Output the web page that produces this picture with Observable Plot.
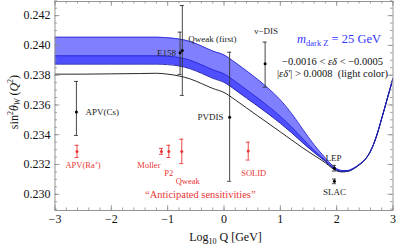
<!DOCTYPE html>
<html><head><meta charset="utf-8">
<script src="https://cdn.jsdelivr.net/npm/d3@7"></script>
<script src="https://cdn.jsdelivr.net/npm/@observablehq/plot@0.6"></script>
<style>body{margin:0;background:#fff}#chart svg{display:block}</style>
</head><body><div id="chart"></div>
<script>
// ---- data ----
const curveX = [-3,-2.5,-2,-1.5,-1.2,-1.0,-0.8,-0.6,-0.4,-0.2,0,0.2,0.4,0.6,0.8,1.0,1.2,1.4,1.6,1.8,1.9,2.0,2.1,2.2,2.3,2.4,2.5,2.6,2.7,2.8,2.9,3.0];
const smCurve = [0.23807,0.23807,0.23809,0.23811,0.23813,0.23807,0.23795,0.23775,0.23744,0.23711,0.23684,0.23634,0.23580,0.23526,0.23473,0.23419,0.23365,0.23311,0.23261,0.23211,0.23181,0.23157,0.23150,0.23154,0.23171,0.23197,0.23231,0.23288,0.23382,0.23509,0.23644,0.23778];
const bandUpper = [0.24055,0.24055,0.24055,0.24055,0.24055,0.24051,0.24043,0.24026,0.23996,0.23962,0.23936,0.23885,0.23829,0.23771,0.23707,0.23634,0.23543,0.23436,0.23332,0.23244,0.23203,0.23172,0.23160,0.23160,0.23175,0.23200,0.23232,0.23289,0.23383,0.23510,0.23645,0.23779];
const bandMid = [0.23930,0.23930,0.23930,0.23930,0.23930,0.23927,0.23919,0.23900,0.23870,0.23836,0.23809,0.23758,0.23702,0.23646,0.23587,0.23524,0.23452,0.23373,0.23295,0.23228,0.23191,0.23164,0.23155,0.23157,0.23173,0.23199,0.23232,0.23289,0.23383,0.23510,0.23645,0.23779];
const bandLower = [0.23874,0.23874,0.23874,0.23874,0.23874,0.23871,0.23862,0.23843,0.23813,0.23779,0.23752,0.23701,0.23646,0.23592,0.23536,0.23477,0.23413,0.23345,0.23280,0.23220,0.23187,0.23161,0.23153,0.23155,0.23172,0.23198,0.23232,0.23289,0.23383,0.23510,0.23645,0.23779];

const expNames = ["APV(Cs)","E158","Qweak (first)","PVDIS","\u03bd\u2212DIS","LEP","SLAC"];
const expX  = [-2.62,-0.78,-0.74,0.10,0.73,1.96,1.96];
const expY  = [0.23552,0.23951,0.23965,0.23518,0.23877,0.23175,0.23087];
const expLo = [0.23395,0.23805,0.23664,0.23087,0.23719,0.23156,0.23071];
const expHi = [0.23758,0.24089,0.24268,0.23954,0.24022,0.23194,0.23102];

const futNames = ["APV(Ra\u207a)","Moller","P2","Qweak","SOLID"];
const futX   = [-2.61,-1.11,-0.98,-0.75,0.43];
const futY   = [0.23288,0.23288,0.23288,0.23288,0.23290];
const futErr = [0.00041,0.00020,0.00041,0.00082,0.00060];

const xTicks = [-3,-2,-1,0,1,2,3];
const xTickLabels = ["\u22123","\u22122","\u22121","0","1","2","3"];
const yTicks = [0.230,0.232,0.234,0.236,0.238,0.240,0.242];
const yTickLabels = ["0.230","0.232","0.234","0.236","0.238","0.240","0.242"];

const noteText = "\u201cAnticipated sensitivities\u201d";
const noteX = -0.42, noteY = 0.2300;

// ---- layout / style ----
const serif = "'Liberation Serif','Times New Roman',serif";
const red = "#ea3535";
const frameCol = "#8c8c8c";
const expLayout = [[9,0,"start"],[-4,0,"end"],[6,-12,"start"],[-6,0,"end"],[1,-33,"middle"],[-1,-10,"middle"],[0,10.5,"middle"]];
const futLayout = [[6,14,"middle"],[-1,14,"end"],[0,21.7,"middle"],[6,30,"middle"],[5.5,22,"middle"]];

const rows = curveX.map((x,i)=>({x, sm:smCurve[i], up:bandUpper[i], mid:bandMid[i], lo:bandLower[i]}));
const exp = expNames.map((name,i)=>({name, x:expX[i], y:expY[i], lo:expLo[i], hi:expHi[i]}));
const fut = futNames.map((name,i)=>({name, x:futX[i], y:futY[i], lo:futY[i]-futErr[i], hi:futY[i]+futErr[i]}));

const xMinor = d3.range(-3, 3.0001, 0.2).map(v=>+v.toFixed(2));
const yMinor = d3.range(0.229, 0.2430001, 0.0005).map(v=>+v.toFixed(4));

const fh = 247-1-37, fw = 399-54.5-6.5;
const tickMarks = (vals, len) => [
  Plot.tickX(vals, {x:d=>d, insetTop: fh-len, stroke: frameCol, strokeWidth:0.8}),
  Plot.tickX(vals, {x:d=>d, insetBottom: fh-len, stroke: frameCol, strokeWidth:0.8})
];
const tickMarksY = (vals, len) => [
  Plot.tickY(vals, {y:d=>d, insetRight: fw-len, stroke: frameCol, strokeWidth:0.8}),
  Plot.tickY(vals, {y:d=>d, insetLeft: fw-len, stroke: frameCol, strokeWidth:0.8})
];

const svg = Plot.plot({
  width: 399, height: 247,
  marginLeft: 54.5, marginRight: 6.5, marginTop: 1, marginBottom: 37,
  style: {fontFamily: serif, background: "#fff"},
  x: {domain: [-3, 3]},
  y: {domain: [0.22891, 0.24295]},
  marks: [
    Plot.areaY(rows, {x:"x", y1:"lo", y2:"up", fill:"#8080ff", curve:"monotone-x", clip:true}),
    Plot.areaY(rows, {x:"x", y1:"lo", y2:"mid", fill:"#4f4fff", curve:"monotone-x", clip:true}),
    Plot.lineY(rows, {x:"x", y:"sm", stroke:"#111", strokeWidth:0.9, curve:"monotone-x", clip:true}),
    Plot.lineY(rows, {x:"x", y:"up", stroke:"#2a2ad2", strokeWidth:0.9, curve:"monotone-x", clip:true}),
    Plot.lineY(rows, {x:"x", y:"mid", stroke:"#2a2ad2", strokeWidth:0.9, curve:"monotone-x", clip:true}),
    Plot.lineY(rows, {x:"x", y:"lo", stroke:"#1a1aa0", strokeWidth:0.9, curve:"monotone-x", clip:true}),
    // measured points
    Plot.ruleX(exp, {x:"x", y1:"lo", y2:"hi", stroke:"#333", strokeWidth:0.9}),
    Plot.ruleY(exp, {y:"hi", x1:"x", x2:"x", insetLeft:-2, insetRight:-2, stroke:"#333", strokeWidth:0.9}),
    Plot.ruleY(exp, {y:"lo", x1:"x", x2:"x", insetLeft:-2, insetRight:-2, stroke:"#333", strokeWidth:0.9}),
    Plot.dot(exp, {x:"x", y:"y", r:1.5, fill:"#000"}),
    // anticipated
    Plot.ruleX(fut, {x:"x", y1:"lo", y2:"hi", stroke:red, strokeWidth:0.9}),
    Plot.ruleY(fut, {y:"hi", x1:"x", x2:"x", insetLeft:-2, insetRight:-2, stroke:red, strokeWidth:0.9}),
    Plot.ruleY(fut, {y:"lo", x1:"x", x2:"x", insetLeft:-2, insetRight:-2, stroke:red, strokeWidth:0.9}),
    Plot.dot(fut, {x:"x", y:"y", r:1.5, fill:red}),
    ...exp.map((row,i)=>Plot.text([row], {x:"x", y:"y", text:"name", dx:expLayout[i][0], dy:expLayout[i][1], textAnchor:expLayout[i][2], fill:"#222", fontSize:9})),
    ...fut.map((row,i)=>Plot.text([row], {x:"x", y:"y", text:"name", dx:futLayout[i][0], dy:futLayout[i][1], textAnchor:futLayout[i][2], fill:red, fontSize:8.5})),
    Plot.text([{x:noteX, y:noteY, t:noteText}], {x:"x", y:"y", text:"t", fill:red, fontSize:10.5}),
    // frame & ticks
    Plot.frame({stroke: frameCol, strokeWidth: 0.9}),
    ...tickMarks(xMinor, 2.5), ...tickMarks(xTicks, 5),
    ...tickMarksY(yMinor, 2.5), ...tickMarksY(yTicks, 5),
    Plot.axisX(xTicks, {anchor:"bottom", tickSize:0, tickPadding:3.5, fontSize:12, fill:"#111", tickFormat:(d)=>xTickLabels[xTicks.indexOf(d)], label:null}),
    Plot.axisY(yTicks, {anchor:"left", tickSize:0, tickPadding:4.5, fontSize:12, fill:"#111", tickFormat:(d)=>yTickLabels[yTicks.indexOf(d)], label:null})
  ]
});

// rich-text annotations
const s = d3.select(svg);
const yl = s.append("text").attr("transform","translate(14,102) rotate(-90)")
  .attr("text-anchor","middle").attr("dominant-baseline","central")
  .attr("font-family",serif).attr("font-size",12).attr("fill","#111");
yl.append("tspan").text("sin");
yl.append("tspan").attr("dy",-4).attr("font-size",8).text("2");
yl.append("tspan").attr("dy",4).attr("font-style","italic").text("\u03b8");
yl.append("tspan").attr("dy",3).attr("font-size",8).attr("font-style","italic").text("W");
yl.append("tspan").attr("dy",-3).text(" (");
yl.append("tspan").attr("font-style","italic").text("Q");
yl.append("tspan").attr("dy",-4).attr("font-size",8).text("2");
yl.append("tspan").attr("dy",4).text(")");

const xl = s.append("text").attr("x",225.5).attr("y",241).attr("text-anchor","middle")
  .attr("font-family",serif).attr("font-size",12).attr("fill","#111");
xl.append("tspan").text("Log");
xl.append("tspan").attr("dy",3).attr("font-size",8).text("10");
xl.append("tspan").attr("dy",-3).text(" Q [GeV]");

const l1 = s.append("text").attr("x",297).attr("y",42.5).attr("text-anchor","start")
  .attr("font-family",serif).attr("font-size",12.5).attr("fill","#3535ff");
l1.append("tspan").attr("font-style","italic").text("m");
l1.append("tspan").attr("dy",3).attr("font-size",8.5).text("dark Z");
l1.append("tspan").attr("dy",-3).text(" = 25 GeV");

const l2 = s.append("text").attr("x",332.5).attr("y",64.5).attr("text-anchor","middle")
  .attr("font-family",serif).attr("font-size",10.5).attr("fill","#111");
l2.append("tspan").text("\u22120.0016 < ");
l2.append("tspan").attr("font-style","italic").text("\u03b5\u03b4");
l2.append("tspan").text(" < \u22120.0005");

const l3 = s.append("text").attr("x",332.5).attr("y",76.5).attr("text-anchor","middle")
  .attr("font-family",serif).attr("font-size",10.5).attr("fill","#111");
l3.append("tspan").text("|");
l3.append("tspan").attr("font-style","italic").text("\u03b5\u03b4'");
l3.append("tspan").text("| > 0.0008\u00a0\u00a0(light color)");

document.getElementById("chart").appendChild(svg);
</script>
</body></html>
